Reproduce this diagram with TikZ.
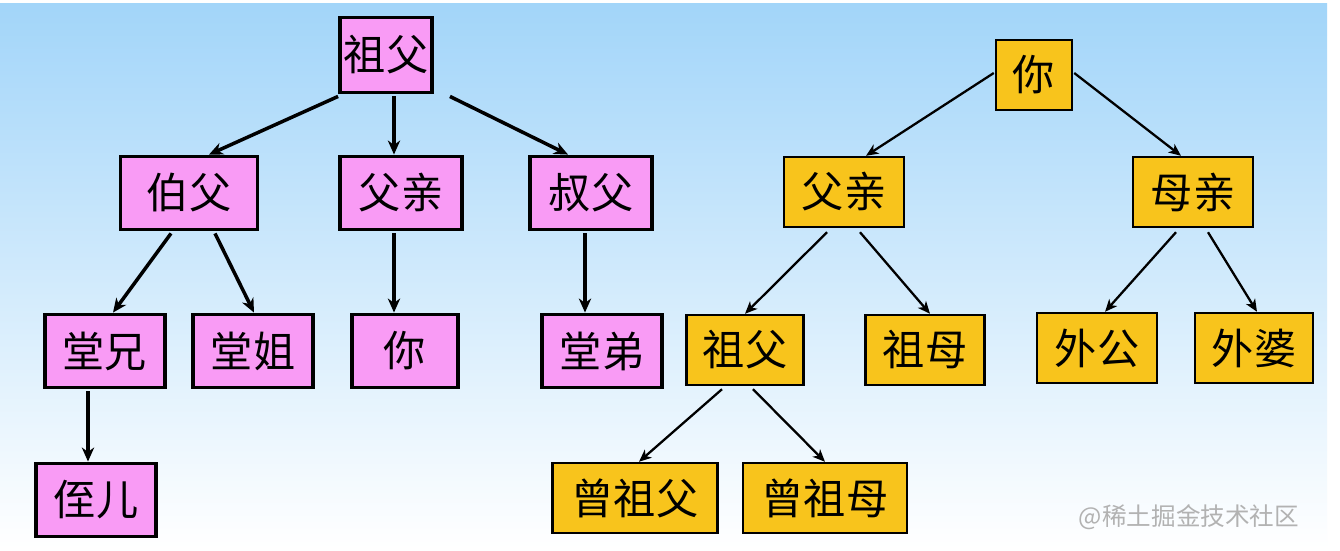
\documentclass[tikz,border=0pt]{standalone}
\usepackage{fontspec}
\setmainfont{Noto Sans CJK SC}
\usepackage{xcolor}
\usepackage{tikz}
\usetikzlibrary{arrows.meta, calc}

\definecolor{pinkfill}{HTML}{F99BF5}
\definecolor{goldfill}{HTML}{F8C41C}
\definecolor{skytop}{HTML}{A2D5F9}

\begin{document}
\begin{tikzpicture}[
    x=0.02cm, y=-0.02cm,
    pinkbox/.style={rectangle, draw, line width=2.2pt, fill=pinkfill, inner sep=0pt, minimum height=1.46cm, font=\fontsize{24}{28}\selectfont},
    goldbox/.style={rectangle, draw, line width=1.4pt, fill=goldfill, inner sep=0pt, minimum height=1.4cm, font=\fontsize{24}{28}\selectfont},
    arrow/.style={-{Stealth[length=8pt, width=7pt, inset=2.5pt]}, line width=2pt},
    thinarrow/.style={-{Stealth[length=7pt, width=6pt, inset=2pt]}, line width=1.3pt},
    mark label/.style={font=\fontsize{14}{16}\selectfont, text=black!30}
]

% Background
\useasboundingbox (0,0) rectangle (1340,551);
\fill[white] (0,0) rectangle (1340,551);
\shade[top color=skytop, bottom color=white] (0,3) rectangle (1327,548);

% Left tree
\node[pinkbox, minimum width=1.84cm, minimum height=1.5cm] (zf) at (386,55) {祖父};
\node[pinkbox, minimum width=2.74cm] (bf) at (189,193) {伯父};
\node[pinkbox, minimum width=2.44cm] (fq) at (401,193) {父亲};
\node[pinkbox, minimum width=2.44cm] (sf) at (591,193) {叔父};
\node[pinkbox, minimum width=2.4cm] (tx) at (105,351) {堂兄};
\node[pinkbox, minimum width=2.4cm] (tj) at (253,351) {堂姐};
\node[pinkbox, minimum width=2.12cm] (nl) at (405,351) {你};
\node[pinkbox, minimum width=2.4cm] (td) at (602,351) {堂弟};
\node[pinkbox, minimum width=2.4cm] (zr) at (96,500) {侄儿};

% Right tree
\node[goldbox, minimum width=1.52cm] (rn) at (1034,75) {你};
\node[goldbox, minimum width=2.4cm] (rfq) at (844,192) {父亲};
\node[goldbox, minimum width=2.4cm] (rmq) at (1193,192) {母亲};
\node[goldbox, minimum width=2.34cm] (rzf) at (745,350) {祖父};
\node[goldbox, minimum width=2.38cm] (rzm) at (925,350) {祖母};
\node[goldbox, minimum width=2.4cm] (wg) at (1097,348) {外公};
\node[goldbox, minimum width=2.36cm] (wp) at (1254,348) {外婆};
\node[goldbox, minimum width=3.3cm] (zzf) at (635,498) {曾祖父};
\node[goldbox, minimum width=3.28cm] (zzm) at (825,498) {曾祖母};

% Arrows - left tree
\draw[arrow] ($(zf.south west)+(0,2)$) -- ($(bf.north)+(20,0)$);
\draw[arrow] ($(zf.south)+(8,2)$) -- ($(fq.north)+(-7,0)$);
\draw[arrow] ($(zf.south east)+(16,2)$) -- ($(sf.north)+(-23,0)$);
\draw[arrow] ($(bf.south)+(-18,2)$) -- ($(tx.north)+(8,0)$);
\draw[arrow] ($(bf.south)+(26,2)$) -- ($(tj.north)+(1,0)$);
\draw[arrow] ($(fq.south)+(-7,2)$) -- ($(nl.north)+(-11,0)$);
\draw[arrow] ($(sf.south)+(-6,2)$) -- ($(td.north)+(-17,0)$);
\draw[arrow] ($(tx.south)+(-17,2)$) -- ($(zr.north)+(-8,0)$);

% Arrows - right tree
\draw[thinarrow] ($(rn.west)+(-1,-2)$) -- ($(rfq.north)+(22,0)$);
\draw[thinarrow] ($(rn.east)+(1,-2)$) -- ($(rmq.north)+(-12,0)$);
\draw[thinarrow] ($(rfq.south)+(-17,4)$) -- (rzf.north);
\draw[thinarrow] ($(rfq.south)+(16,4)$) -- ($(rzm.north)+(5,0)$);
\draw[thinarrow] ($(rmq.south)+(-17,4)$) -- ($(wg.north)+(8,0)$);
\draw[thinarrow] ($(rmq.south)+(15,4)$) -- ($(wp.north)+(3,0)$);
\draw[thinarrow] ($(rzf.south)+(-23,3)$) -- ($(zzf.north)+(4,0)$);
\draw[thinarrow] ($(rzf.south)+(8,3)$) -- (zzm.north);

% Watermark
\node[mark label] (wm) at (1189,517) {@稀土掘金技术社区};

\end{tikzpicture}
\end{document}
